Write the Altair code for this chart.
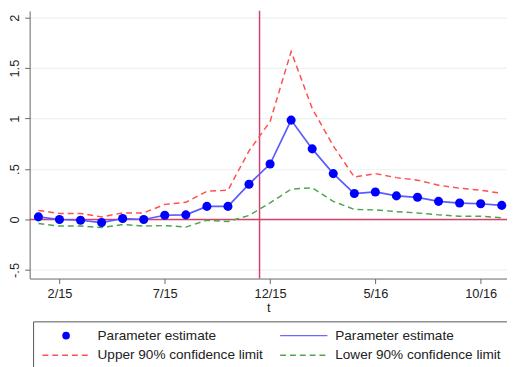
import altair as alt
import pandas as pd

# ---- data ----
months = list(range(23))  # 0 = 1/15 ... 22 = 11/16
estimate = [0.026, 0.00, -0.007, -0.03, 0.01, 0.00, 0.042, 0.046, 0.13, 0.13, 0.35,
            0.55, 0.985, 0.70, 0.455, 0.257, 0.273, 0.234, 0.22, 0.18, 0.163, 0.156, 0.14]
upper = [0.09, 0.06, 0.06, 0.026, 0.065, 0.065, 0.15, 0.17, 0.28, 0.29, 0.68,
         0.97, 1.665, 1.10, 0.73, 0.42, 0.455, 0.415, 0.39, 0.34, 0.31, 0.29, 0.26]
lower = [-0.04, -0.065, -0.065, -0.08, -0.05, -0.065, -0.06, -0.075, -0.007, -0.02, 0.04,
         0.165, 0.30, 0.315, 0.18, 0.10, 0.095, 0.078, 0.065, 0.046, 0.033, 0.033, 0.016]

x_tick_values = [1, 6, 11, 16, 21]
x_tick_labels = ["2/15", "7/15", "12/15", "5/16", "10/16"]
y_tick_values = [-0.5, 0, 0.5, 1, 1.5, 2]
y_tick_labels = ["-.5", "0", ".5", "1", "1.5", "2"]
event_month = [10.5]
zero_line = [0]

legend_labels = ["Parameter estimate", "Parameter estimate",
                 "Upper 90% confidence limit", "Lower 90% confidence limit"]
legend_kind = ["point", "line", "upper", "lower"]
legend_col = [0, 1, 0, 1]
legend_row = [0, 0, 1, 1]

FONT = "Liberation Sans"
RED_REF = "#d6416c"
BLUE_LINE = "#5a5aff"
BLUE_PT = "#0000ff"
RED_DASH = "#ff5050"
GREEN_DASH = "#4ca64c"


def label_expr(vals, labels):
    parts = [f"datum.value == {v} ? '{l}'" for v, l in zip(vals, labels)]
    return " : ".join(parts) + " : ''"


df = pd.DataFrame({"m": months, "est": estimate, "up": upper, "lo": lower})

xscale = alt.Scale(domain=[-0.416, 22.25], nice=False, zero=False)
yscale = alt.Scale(domain=[-0.585, 2.068], nice=False, zero=False)

xaxis = alt.Axis(values=x_tick_values, labelExpr=label_expr(x_tick_values, x_tick_labels),
                 title="t", grid=False, domainColor="#666", tickColor="#666", tickSize=5,
                 labelFont=FONT, labelFontSize=13, labelColor="#222", labelPadding=4,
                 titleFont=FONT, titleFontSize=13, titleFontWeight="normal", titleColor="#222",
                 titlePadding=1, labelFlush=False, labelOverlap=False)
yaxis = alt.Axis(values=y_tick_values, labelExpr=label_expr(y_tick_values, y_tick_labels),
                 title=None, grid=True, gridColor="#eaf2f2", gridWidth=1.2,
                 domainColor="#666", tickColor="#666", tickSize=5, labelAngle=270,
                 labelFont=FONT, labelFontSize=13, labelColor="#222", labelPadding=3,
                 labelFlush=False, labelOverlap=False)

base = alt.Chart(df)

hrule = alt.Chart(pd.DataFrame({"y": zero_line})).mark_rule(color=RED_REF, strokeWidth=1.5).encode(
    y=alt.Y("y:Q", scale=yscale, axis=yaxis))
vrule = alt.Chart(pd.DataFrame({"x": event_month})).mark_rule(color=RED_REF, strokeWidth=1.5).encode(
    x=alt.X("x:Q", scale=xscale, axis=xaxis))

up_line = base.mark_line(color=RED_DASH, strokeWidth=1.5, strokeDash=[6, 4]).encode(
    x=alt.X("m:Q", scale=xscale, axis=xaxis), y=alt.Y("up:Q", scale=yscale, axis=yaxis))
lo_line = base.mark_line(color=GREEN_DASH, strokeWidth=1.5, strokeDash=[6, 4]).encode(
    x=alt.X("m:Q", scale=xscale, axis=xaxis), y=alt.Y("lo:Q", scale=yscale, axis=yaxis))
est_line = base.mark_line(color=BLUE_LINE, strokeWidth=1.7).encode(
    x=alt.X("m:Q", scale=xscale, axis=xaxis), y=alt.Y("est:Q", scale=yscale, axis=yaxis))
est_pts = base.mark_circle(color=BLUE_PT, size=85, opacity=1).encode(
    x=alt.X("m:Q", scale=xscale, axis=xaxis), y=alt.Y("est:Q", scale=yscale, axis=yaxis))

main = alt.layer(hrule, vrule, up_line, lo_line, est_line, est_pts)

# ---- legend drawn as its own layer ----
leg_df = pd.DataFrame({"label": legend_labels, "kind": legend_kind,
                       "col": legend_col, "row": legend_row})
legx = alt.Scale(domain=[0, 1], range=[37, 278.5])
legy = alt.Scale(domain=[0, 1], range=[330, 350])
kind_domain = ["line", "upper", "lower"]

box = alt.Chart(pd.DataFrame({"a": [0]})).mark_rect(fill="white", stroke="#555", strokeWidth=1).encode(
    x=alt.value(4), x2=alt.value(500), y=alt.value(316), y2=alt.value(390))
leg_lines = alt.Chart(leg_df).transform_filter("datum.kind != 'point'").mark_rule(
    strokeWidth=1.5, xOffset=-24, x2Offset=24).encode(
    x=alt.X("col:Q", scale=legx, axis=None), x2="col:Q",
    y=alt.Y("row:Q", scale=legy, axis=None),
    color=alt.Color("kind:N", scale=alt.Scale(domain=kind_domain,
                                              range=["#6a6aff", RED_DASH, GREEN_DASH]), legend=None),
    strokeDash=alt.StrokeDash("kind:N", scale=alt.Scale(domain=kind_domain,
                                                        range=[[1, 0], [6, 4], [6, 4]]), legend=None))
leg_pt = alt.Chart(leg_df).transform_filter("datum.kind == 'point'").mark_circle(
    color=BLUE_PT, size=60, opacity=1).encode(
    x=alt.X("col:Q", scale=legx, axis=None), y=alt.Y("row:Q", scale=legy, axis=None))
leg_txt = alt.Chart(leg_df).mark_text(align="left", baseline="middle", dx=32, font=FONT,
                                      fontSize=13.8, color="#222").encode(
    x=alt.X("col:Q", scale=legx, axis=None), y=alt.Y("row:Q", scale=legy, axis=None),
    text="label:N")

legend = alt.layer(box, leg_lines, leg_pt, leg_txt)

chart = alt.layer(main, legend).resolve_scale(
    x="independent", y="independent", color="independent", strokeDash="independent"
).properties(
    width=485, height=272,
    autosize=alt.AutoSizeParams(type="none"),
    padding={"left": 22, "top": 0, "right": 0, "bottom": 87},
    background="white",
).configure_view(stroke=None)

chart.save("out.html", embed_options={"renderer": "svg", "actions": False})
